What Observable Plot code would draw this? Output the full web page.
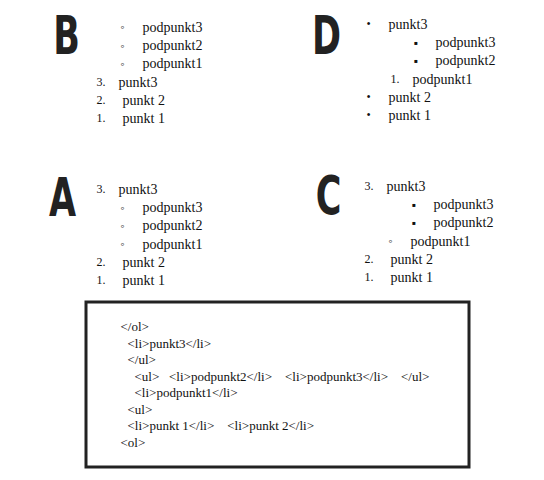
<!DOCTYPE html>
<html><head><meta charset="utf-8">
<script src="https://cdn.jsdelivr.net/npm/d3@7"></script>
<script src="https://cdn.jsdelivr.net/npm/@observablehq/plot@0.6"></script>
<style>body{margin:0;background:#fff}</style>
</head><body><div id="c"></div>
<script>
// Code snippet lines and their nesting depth
const codeLines = ["<ol>", "<li>punkt 1</li>    <li>punkt 2</li>", "<ul>", "<li>podpunkt1</li>",
  "<ul>   <li>podpunkt2</li>    <li>podpunkt3</li>    </ul>", "</ul>", "<li>punkt3</li>", "</ol>"];
const codeDepth = [0, 1, 1, 2, 2, 1, 1, 0];

// Answer options
const answerLetters = ["A", "B", "C", "D"];
const answerItems = {
  A: [["1.","punkt 1",0],["2.","punkt 2",0],["◦","podpunkt1",1],["◦","podpunkt2",1],["◦","podpunkt3",1],["3.","punkt3",0]],
  B: [["1.","punkt 1",0],["2.","punkt 2",0],["3.","punkt3",0],["◦","podpunkt1",1],["◦","podpunkt2",1],["◦","podpunkt3",1]],
  C: [["1.","punkt 1",0],["2.","punkt 2",0],["◦","podpunkt1",1],["▪","podpunkt2",2],["▪","podpunkt3",2],["3.","punkt3",0]],
  D: [["•","punkt 1",0],["•","punkt 2",0],["1.","podpunkt1",1],["▪","podpunkt2",2],["▪","podpunkt3",2],["•","punkt3",0]]
};

// layout
const layout = {
  A: {x: 96, y: 200, lx: 62, ly: 265},
  B: {x: 96, y: 362, lx: 66, ly: 427},
  C: {x: 364, y: 203, lx: 328, ly: 267},
  D: {x: 366, y: 365, lx: 326, ly: 427}
};
const code = codeLines.map((t, i) => ({t, x: 120 + codeDepth[i] * 7, y: 38 + i * 16.5}));
const markers = [], labels = [], letters = [];
for (const k of answerLetters) {
  const L = layout[k];
  letters.push({t: k, x: L.lx, y: L.ly});
  answerItems[k].forEach(([m, t, lv], i) => {
    const y = L.y + i * 18.2;
    const mx = L.x + lv * 23 + (lv > 0 ? 1 : 0);
    markers.push({t: m, x: mx, y});
    labels.push({t, x: mx + (lv === 0 && i < 2 && k !== "D" ? 26 : 22), y});
  });
}
const serif = "'Liberation Serif', 'DejaVu Serif', serif";
const plot = Plot.plot({
  width: 544, height: 480, margin: 0,
  x: {domain: [0, 544], axis: null}, y: {domain: [0, 480], axis: null},
  style: {background: "#fff"},
  marks: [
    Plot.rect([0], {x1: () => 86, x2: () => 469, y1: () => 13, y2: () => 178, fill: "none", stroke: "#222", strokeWidth: 3}),
    Plot.text(code, {x: "x", y: "y", text: "t", textAnchor: "start", fontSize: 13, fontFamily: serif, fill: "#111"}),
    Plot.text(markers, {x: "x", y: "y", text: "t", textAnchor: "start", fontSize: 12, fontFamily: serif, fill: "#111"}),
    Plot.text(labels, {x: "x", y: "y", text: "t", textAnchor: "start", fontSize: 14, fontFamily: serif, fill: "#111"}),
    Plot.text(letters, {x: "x", y: "y", text: "t", textAnchor: "middle", lineAnchor: "bottom", fontSize: 54, fontWeight: "bold", fontFamily: "'DejaVu Sans Condensed', 'Roboto', sans-serif", fill: "#222"})
  ]
});
document.getElementById("c").append(plot);
// condense the big letters horizontally
const groups = plot.querySelectorAll("g[aria-label='text']");
const g = groups[groups.length - 1];
g.querySelectorAll("text").forEach(t => {
  const x = +t.getAttribute("x") || 0, y = +t.getAttribute("y") || 0;
  const prev = t.getAttribute("transform") || "";
  t.setAttribute("transform", prev ? prev + " scale(0.72,1)" : `translate(${x},${y}) scale(0.72,1) translate(${-x},${-y})`);
});
</script></body></html>
